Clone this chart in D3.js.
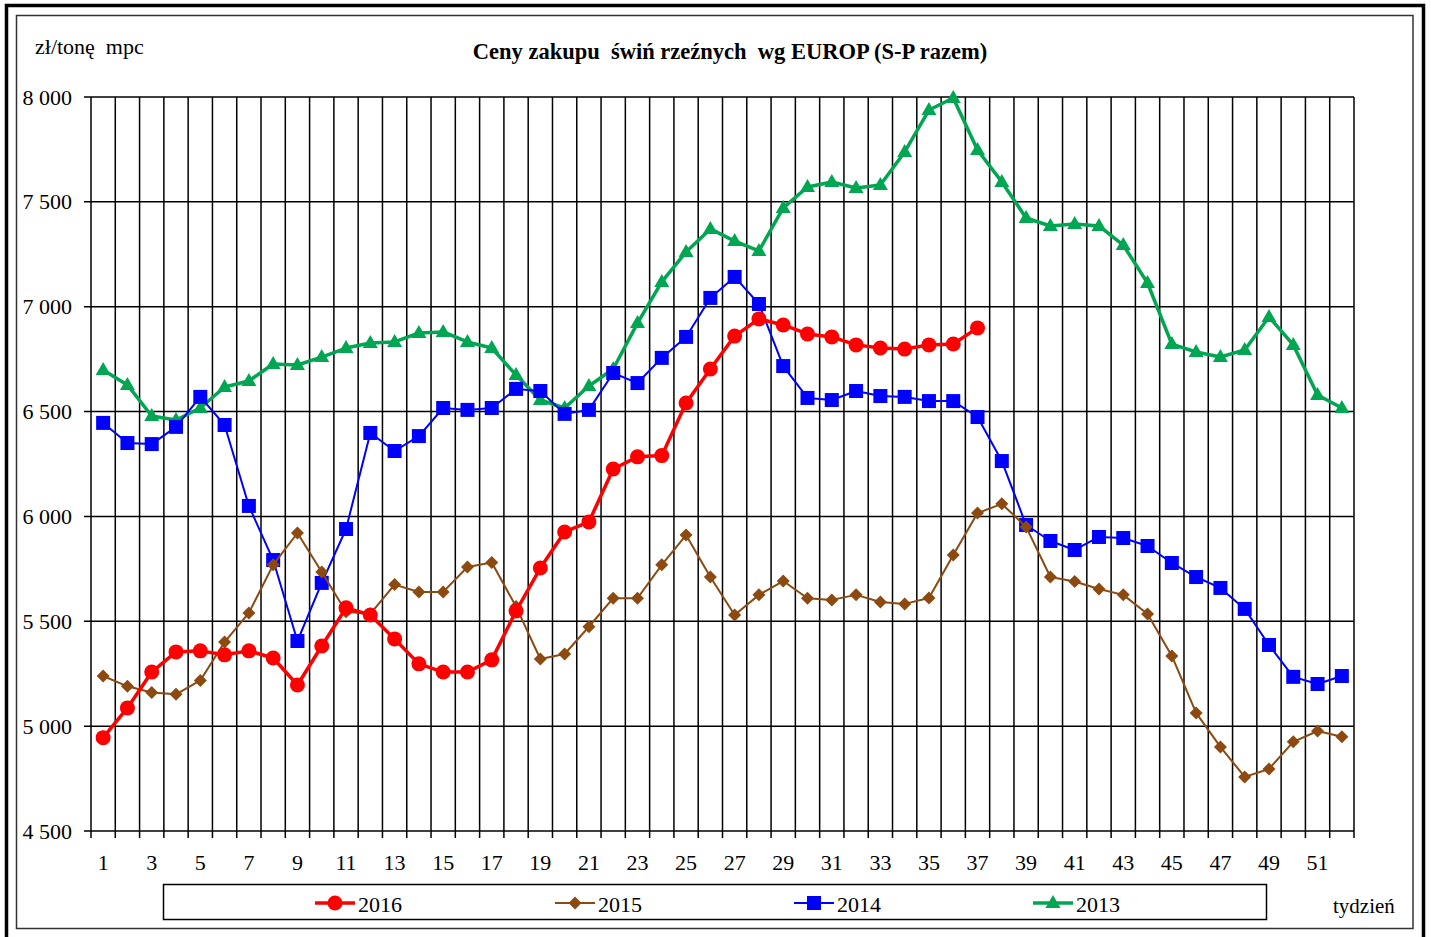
<!DOCTYPE html>
<html>
<head>
<meta charset="utf-8">
<script src="https://cdn.jsdelivr.net/npm/d3@7"></script>
<style>
  body { margin: 0; background: #fff; }
  text { font-family: "Liberation Serif", "Times New Roman", serif; }
</style>
</head>
<body>
<div id="chart"></div>
<script>
const weeks = d3.range(1, 53);
const yTicks = [4500, 5000, 5500, 6000, 6500, 7000, 7500, 8000];

const s2016 = [4945, 5087, 5258, 5354, 5359, 5340, 5359, 5325, 5196, 5382,
  5564, 5530, 5416, 5297, 5258, 5258, 5316, 5549, 5754, 5926,
  5974, 6226, 6284, 6290, 6541, 6703, 6860, 6942, 6913, 6870,
  6856, 6818, 6803, 6798, 6818, 6822, 6899];

const s2015 = [5239, 5190, 5160, 5152, 5218, 5401, 5540, 5769, 5921, 5735,
  5545, 5535, 5675, 5640, 5640, 5759, 5780, 5570, 5320, 5344,
  5474, 5610, 5610, 5769, 5911, 5711, 5530, 5626, 5692, 5610,
  5602, 5626, 5592, 5583, 5611, 5816, 6016, 6060, 5950, 5711,
  5690, 5654, 5626, 5535, 5335, 5063, 4901, 4758, 4796, 4925,
  4977, 4949];

const s2014 = [6446, 6350, 6345, 6427, 6570, 6436, 6050, 5792, 5406, 5683,
  5940, 6398, 6312, 6383, 6517, 6508, 6517, 6608, 6598, 6489,
  6508, 6684, 6636, 6756, 6856, 7042, 7142, 7013, 6717, 6565,
  6555, 6598, 6574, 6570, 6550, 6550, 6474, 6264, 5959, 5883,
  5840, 5902, 5897, 5859, 5778, 5711, 5659, 5559, 5387, 5235,
  5201, 5239];

const s2013 = [6698, 6627, 6479, 6460, 6517, 6617, 6646, 6727, 6722, 6760,
  6803, 6827, 6832, 6875, 6880, 6832, 6803, 6674, 6555, 6517,
  6622, 6703, 6922, 7118, 7261, 7371, 7313, 7266, 7471, 7571,
  7595, 7566, 7580, 7738, 7938, 7995, 7747, 7595, 7423, 7385,
  7394, 7385, 7294, 7113, 6822, 6784, 6760, 6794, 6951, 6818,
  6579, 6517];

const series = [
  { name: "2016", values: s2016, color: "#ff0000", width: 3.5, marker: "circle" },
  { name: "2015", values: s2015, color: "#8c4a10", width: 2, marker: "diamond" },
  { name: "2014", values: s2014, color: "#0000ff", width: 2, marker: "square" },
  { name: "2013", values: s2013, color: "#00a651", width: 3.5, marker: "triangle" }
];

const W = 1431, H = 937;
const PLOT = { LEFT: 91, RIGHT: 1354, TOP: 97, BOTTOM: 831 };

const svg = d3.select("#chart").append("svg")
  .attr("width", W).attr("height", H);

// frames
svg.append("rect").attr("x", 6.5).attr("y", 5.5).attr("width", 1417).attr("height", 934)
  .attr("fill", "none").attr("stroke", "#000").attr("stroke-width", 3.5);
svg.append("rect").attr("x", 16.5).attr("y", 15.5).attr("width", 1396.5).attr("height", 913)
  .attr("fill", "none").attr("stroke", "#333").attr("stroke-width", 1.5);

// scales
const x = d3.scaleBand().domain(weeks).range([PLOT.LEFT, PLOT.RIGHT]);
const xc = d => x(d) + x.bandwidth() / 2;
const y = d3.scaleLinear().domain([4500, 8000]).range([PLOT.BOTTOM, PLOT.TOP]);

// grid
const grid = svg.append("g").attr("stroke", "#000").attr("stroke-width", 1.5);
const bounds = weeks.map(d => x(d)).concat([PLOT.RIGHT]);
grid.selectAll("line.v").data(bounds).join("line")
  .attr("x1", d => d).attr("x2", d => d)
  .attr("y1", PLOT.TOP).attr("y2", PLOT.BOTTOM + 7);
grid.selectAll("line.h").data(yTicks).join("line")
  .attr("x1", PLOT.LEFT - 7).attr("x2", PLOT.RIGHT)
  .attr("y1", d => y(d)).attr("y2", d => y(d));

// axes
const fmt = d => d3.format(",")(d).replace(",", " ");
const yAxis = svg.append("g").attr("transform", `translate(${PLOT.LEFT - 7},0)`)
  .call(d3.axisLeft(y).tickValues(yTicks).tickFormat(fmt).tickSize(0).tickPadding(12));
yAxis.select(".domain").remove();
yAxis.selectAll("text").attr("font-size", 22).attr("fill", "#000")
  .attr("font-family", "Liberation Serif");

const xAxis = svg.append("g").attr("transform", `translate(0,${PLOT.BOTTOM})`)
  .call(d3.axisBottom(x).tickValues(weeks.filter(d => d % 2 === 1)).tickSize(0).tickPadding(23));
xAxis.select(".domain").remove();
xAxis.selectAll("text").attr("font-size", 22).attr("fill", "#000")
  .attr("font-family", "Liberation Serif");

// titles
svg.append("text").attr("x", 730).attr("y", 59).attr("text-anchor", "middle")
  .attr("font-size", 22.5).attr("font-weight", "bold").style("white-space", "pre")
  .text("Ceny zakupu  świń rzeźnych  wg EUROP (S-P razem)");
svg.append("text").attr("x", 35).attr("y", 54).attr("font-size", 22)
  .style("white-space", "pre").text("zł/tonę  mpc");
svg.append("text").attr("x", 1333).attr("y", 913).attr("font-size", 21).text("tydzień");

// markers
function drawMarker(g, type, color, cx, cy) {
  if (type === "circle") {
    g.append("circle").attr("cx", cx).attr("cy", cy).attr("r", 7.5).attr("fill", color);
  } else if (type === "square") {
    g.append("rect").attr("x", cx - 7).attr("y", cy - 7).attr("width", 14).attr("height", 14)
      .attr("fill", color);
  } else if (type === "diamond") {
    g.append("path").attr("d", `M${cx},${cy - 6.5}L${cx + 6.5},${cy}L${cx},${cy + 6.5}L${cx - 6.5},${cy}Z`)
      .attr("fill", color);
  } else if (type === "triangle") {
    g.append("path").attr("d", `M${cx},${cy - 8}L${cx + 7.5},${cy + 5}L${cx - 7.5},${cy + 5}Z`)
      .attr("fill", color);
  }
}

const line = d3.line().x((d, i) => xc(weeks[i])).y(d => y(d));

// draw 2013 first so 2016 is on top
series.slice().reverse().forEach(s => {
  const g = svg.append("g");
  g.append("path").datum(s.values).attr("d", line)
    .attr("fill", "none").attr("stroke", s.color).attr("stroke-width", s.width)
    .attr("stroke-linejoin", "round");
  s.values.forEach((v, i) => drawMarker(g, s.marker, s.color, xc(weeks[i]), y(v)));
});

// legend
svg.append("rect").attr("x", 163.5).attr("y", 884.5).attr("width", 1103).attr("height", 35)
  .attr("fill", "#fff").attr("stroke", "#000").attr("stroke-width", 1.5);
const legendX = [315, 555, 794, 1033];
series.forEach((s, i) => {
  const g = svg.append("g");
  const lx = legendX[i];
  g.append("line").attr("x1", lx).attr("x2", lx + 40).attr("y1", 903).attr("y2", 903)
    .attr("stroke", s.color).attr("stroke-width", s.width);
  drawMarker(g, s.marker, s.color, lx + 20, 903);
  g.append("text").attr("x", lx + 43).attr("y", 912).attr("font-size", 22).text(s.name);
});
</script>
</body>
</html>
